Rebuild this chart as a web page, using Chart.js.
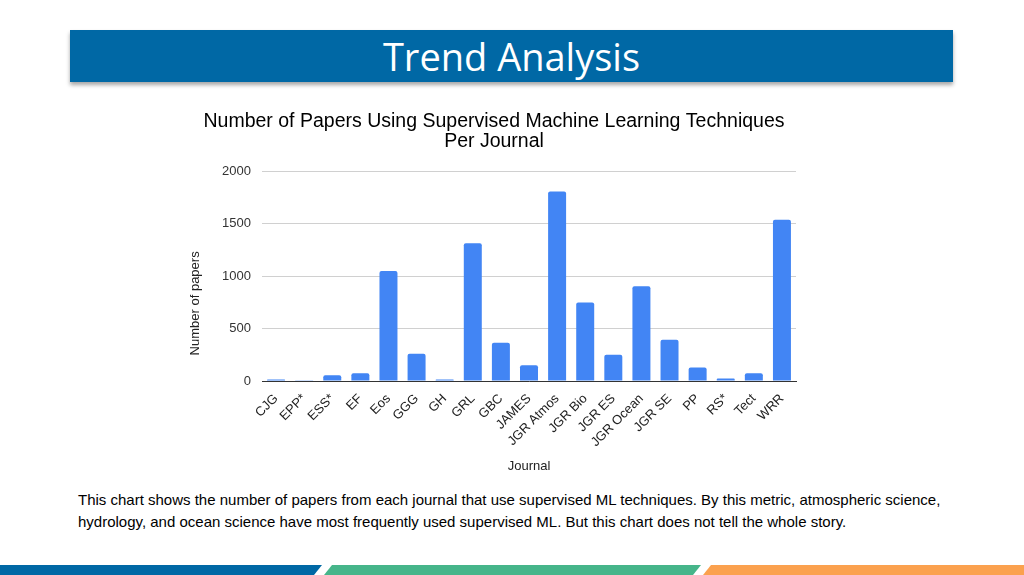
<!DOCTYPE html>
<html>
<head>
<meta charset="utf-8">
<script src="https://cdn.jsdelivr.net/npm/chart.js@4/dist/chart.umd.min.js"></script>
<style>
  body { margin: 0; width: 1024px; height: 575px; background: #fff; position: relative; overflow: hidden; }
  .banner {
    position: absolute; left: 70px; top: 30px; width: 883px; height: 52px;
    background: #0068a5; box-shadow: 0 3px 4px rgba(0, 0, 0, 0.35);
    color: #fff; font-family: "Open Sans", sans-serif; font-size: 38px;
    line-height: 52px; text-align: center;
  }
  .chartBox { position: absolute; left: 170px; top: 100px; width: 648px; height: 378px; }
  .caption {
    position: absolute; left: 78px; top: 489px; white-space: nowrap;
    font-family: "Liberation Sans", Arial, sans-serif; font-size: 15px; line-height: 22px; color: #000;
  }
  .stripe { position: absolute; top: 565px; height: 10px; }
  .blue { left: 0; width: 322px; background: #0068a5; clip-path: polygon(0 0, 322px 0, 314px 10px, 0 10px); }
  .green { left: 324px; width: 377px; background: #46b58a; clip-path: polygon(8px 0, 377px 0, 369px 10px, 0 10px); }
  .orange { left: 703px; width: 321px; background: #fba14e; clip-path: polygon(8px 0, 321px 0, 321px 10px, 0 10px); }
</style>
</head>
<body>
<div class="banner">Trend Analysis</div>
<div class="chartBox"><canvas id="papersChart"></canvas></div>
<div class="caption">This chart shows the number of papers from each journal that use supervised ML techniques. By this metric, atmospheric science,<br>hydrology, and ocean science have most frequently used supervised ML. But this chart does not tell the whole story.</div>
<div class="stripe blue"></div>
<div class="stripe green"></div>
<div class="stripe orange"></div>
<script>
var journals = ["CJG", "EPP*", "ESS*", "EF", "Eos", "GGG", "GH", "GRL", "GBC", "JAMES",
  "JGR Atmos", "JGR Bio", "JGR ES", "JGR Ocean", "JGR SE", "PP", "RS*", "Tect", "WRR"];
var paperCounts = [15, 3, 55, 75, 1050, 260, 15, 1315, 365, 150,
  1810, 750, 250, 905, 395, 130, 25, 75, 1540];
var yTicks = [0, 500, 1000, 1500, 2000];

var labelFont = "Liberation Sans, Arial, sans-serif";

var ctx = document.getElementById("papersChart").getContext("2d");
var papersChart = new Chart(ctx, {
  type: "bar",
  data: {
    labels: journals,
    datasets: [
      {
        label: "Number of papers",
        data: paperCounts,
        backgroundColor: "#4285f4",
        barPercentage: 0.64,
        categoryPercentage: 1.0,
        borderRadius: { topLeft: 2, topRight: 2 }
      }
    ]
  },
  options: {
    responsive: true,
    maintainAspectRatio: false,
    animation: false,
    layout: { padding: { left: 22, right: 22, top: 0, bottom: 0 } },
    plugins: {
      legend: { display: false },
      tooltip: { enabled: false },
      title: {
        display: true,
        text: ["Number of Papers Using Supervised Machine Learning Techniques", "Per Journal"],
        color: "#000",
        font: { family: labelFont, size: 19.5, weight: "normal", lineHeight: 1.04 },
        padding: { top: 11, bottom: 20 }
      }
    },
    scales: {
      x: {
        grid: { display: false },
        border: { color: "#333", width: 1 },
        ticks: {
          autoSkip: false,
          maxRotation: 45,
          minRotation: 45,
          padding: 2,
          color: "#222",
          font: { family: labelFont, size: 13 }
        },
        title: {
          display: true,
          text: "Journal",
          color: "#222",
          font: { family: labelFont, size: 13 },
          padding: { top: 0, bottom: 4 }
        },
        afterFit: function (scale) { scale.height = 97; }
      },
      y: {
        min: 0,
        max: 2000,
        afterBuildTicks: function (scale) {
          scale.ticks = yTicks.map(function (v) { return { value: v }; });
        },
        grid: { color: "#d0d0d0", drawTicks: false },
        border: { display: false },
        ticks: {
          padding: 11,
          color: "#333",
          font: { family: labelFont, size: 13 },
          callback: function (value) { return String(value); }
        },
        title: {
          display: true,
          // trailing spaces push the rotated title down, as in the original
          text: "Number of papers               ",
          color: "#222",
          font: { family: labelFont, size: 13 },
          padding: { top: -4, bottom: 0 }
        },
        afterFit: function (scale) { scale.width = 70; }
      }
    }
  }
});
</script>
</body>
</html>
